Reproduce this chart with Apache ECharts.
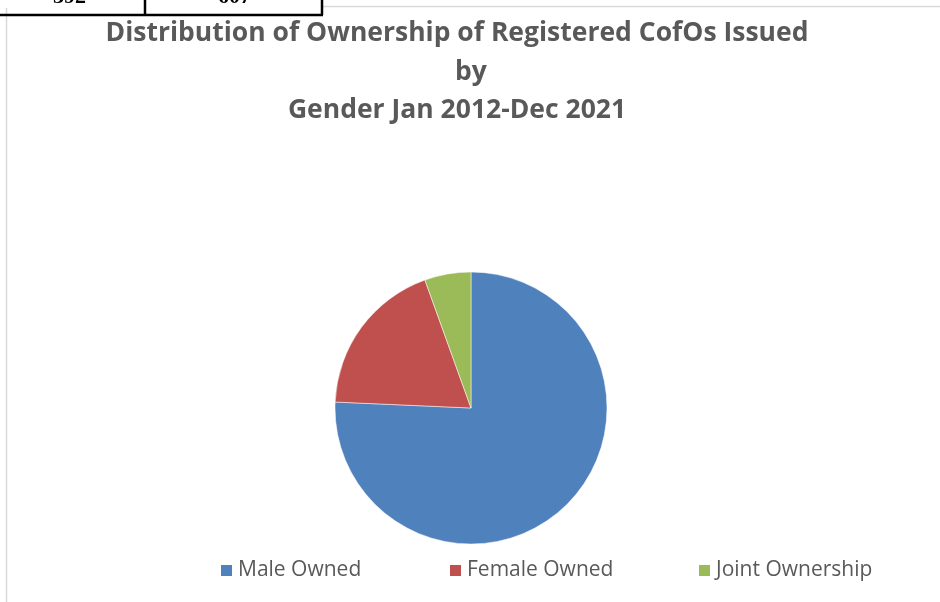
<!DOCTYPE html>
<html>
<head>
<meta charset="utf-8">
<script src="https://cdn.jsdelivr.net/npm/echarts@6/dist/echarts.min.js"></script>
<style>
html,body{margin:0;padding:0;background:#fff;}
#c{width:940px;height:602px;}
</style>
</head>
<body>
<div id="c"></div>
<script>
const categories = ['Male Owned', 'Female Owned', 'Joint Ownership'];
const shares = [75.7, 18.8, 5.5];
const colors = ['#4F81BD', '#C0504D', '#9BBB59'];
const titleLines = ['Distribution of Ownership of Registered CofOs Issued', 'by', 'Gender Jan 2012-Dec 2021'];
const tableCells = ['392', '607'];

const chart = echarts.init(document.getElementById('c'), null, {renderer: 'canvas'});
const legendLefts = [214, 443, 692];
const titleCenters = [457, 471, 457];
const option = {
  backgroundColor: '#ffffff',
  animation: false,
  title: titleLines.map((t, i) => ({
    text: t,
    left: titleCenters[i],
    textAlign: 'center',
    top: 14.5 + i * 38.5,
    padding: 0,
    textStyle: {
      fontFamily: 'Open Sans',
      fontWeight: 'bold',
      fontSize: 26.5,
      color: '#595959',
      lineHeight: 38.5
    }
  })),
  legend: categories.map((name, i) => ({
    data: [name],
    left: legendLefts[i],
    top: 555,
    itemWidth: 13,
    itemHeight: 13,
    itemGap: 0,
    icon: 'rect',
    textStyle: {fontFamily: 'Open Sans', fontSize: 21, color: '#595959'},
    selectedMode: false
  })),
  graphic: [
    {type: 'rect', shape: {x: 6.5, y: 6.5, width: 1000, height: 1000}, style: {fill: 'none', stroke: '#d9d9d9', lineWidth: 1.5}, silent: true, z: 0},
    {type: 'rect', shape: {x: 0, y: 0, width: 323, height: 8}, style: {fill: '#ffffff'}, silent: true, z: 1},
    {type: 'text', left: 53, top: -14, style: {text: tableCells[0], font: 'bold 22px "Liberation Serif"', fill: '#000'}, z: 2},
    {type: 'text', left: 218, top: -14, style: {text: tableCells[1], font: 'bold 22px "Liberation Serif"', fill: '#000'}, z: 2},
    {type: 'line', shape: {x1: 0, y1: 15, x2: 323, y2: 15}, style: {stroke: '#000', lineWidth: 2.5}, z: 3},
    {type: 'line', shape: {x1: 145, y1: 0, x2: 145, y2: 15}, style: {stroke: '#000', lineWidth: 2.5}, z: 3},
    {type: 'line', shape: {x1: 322, y1: 0, x2: 322, y2: 15}, style: {stroke: '#000', lineWidth: 2.5}, z: 3}
  ],
  series: [{
    type: 'pie',
    center: [471, 408],
    radius: 136,
    startAngle: 90,
    clockwise: true,
    label: {show: false},
    labelLine: {show: false},
    itemStyle: {borderColor: '#ffffff', borderWidth: 0.5},
    emphasis: {disabled: true},
    data: categories.map((name, i) => ({name, value: shares[i], itemStyle: {color: colors[i]}}))
  }]
};
chart.setOption(option);
</script>
</body>
</html>
